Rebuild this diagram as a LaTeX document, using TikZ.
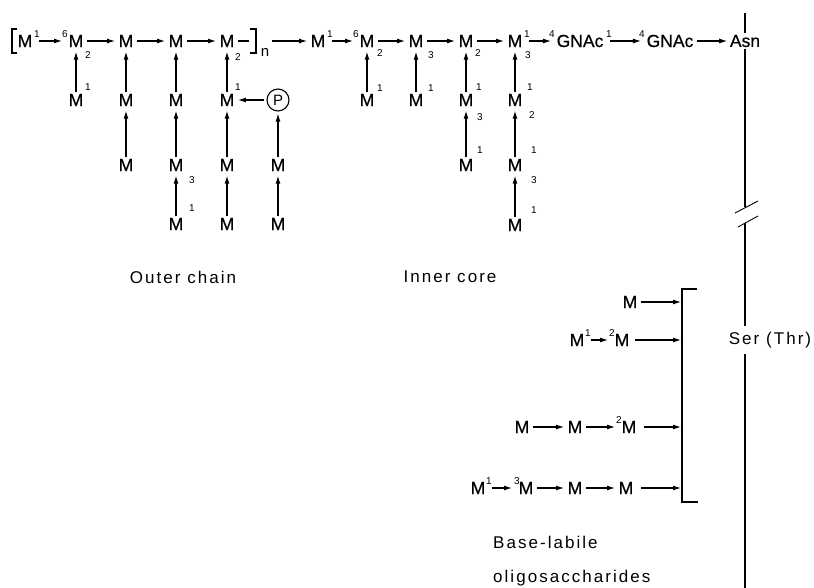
\documentclass[tikz,border=0pt]{standalone}
\usepackage{fontspec}
\setmainfont{Liberation Sans}
\newfontfamily\labfont[LetterSpace=12]{Liberation Sans}
\newfontfamily\mfont[FakeBold=0.6]{Liberation Sans}
\usetikzlibrary{arrows.meta}
\begin{document}
\begin{tikzpicture}[x=1pt,y=-1pt,
  m/.style={font=\mfont\fontsize{17.5}{17.5}\selectfont, inner sep=1.5pt},
  sp/.style={font=\fontsize{10}{10}\selectfont, inner sep=0pt},
  arr/.style={-{Latex[length=8pt,width=5pt]}, line width=1.1pt},
  ln/.style={line width=1.1pt},
  lab/.style={font=\labfont\fontsize{17}{17}\selectfont, inner sep=0pt},
  pc/.style={circle, draw, line width=1.1pt, minimum size=22pt, inner sep=0pt, font=\fontsize{15}{15}\selectfont}
]
\useasboundingbox (0,0) rectangle (814,588);

% ---------- top row: outer chain ----------
\draw[ln] (17,29) -- (12,29) -- (12,53) -- (17,53);
\node[m] (o1) at (25,41) {M};
\node[sp] at (37,34) {1};
\node[sp] at (65,34) {6};
\node[m] (o2) at (76,41) {M};
\node[m] (o3) at (126,41) {M};
\node[m] (o4) at (176,41) {M};
\node[m] (o5) at (227,41) {M};
\coordinate (o5e) at (249,41);
\draw[ln] (250,29) -- (256,29) -- (256,53) -- (250,53);
\node[font=\fontsize{15}{15}\selectfont, inner sep=0pt] (nn) at (265,52) {n};
\coordinate (rbr) at (272,41);

\draw[arr, shorten <=5pt, shorten >=5pt] (o1) -- (o2);
\draw[arr, shorten <=2pt, shorten >=2pt] (o2) -- (o3);
\draw[arr, shorten <=2pt, shorten >=2pt] (o3) -- (o4);
\draw[arr, shorten <=2pt, shorten >=2pt] (o4) -- (o5);
\draw[ln, shorten <=2pt] (o5) -- (o5e);

% ---------- top row: inner core ----------
\node[m] (i1) at (318,41) {M};
\node[sp] at (330,34) {1};
\node[sp] at (356,34) {6};
\node[m] (i2) at (367,41) {M};
\node[m] (i3) at (416,41) {M};
\node[m] (i4) at (466,41) {M};
\node[m] (i5) at (515,41) {M};
\node[sp] at (527,34) {1};
\node[sp] at (552,34) {4};
\node[m] (g1) at (580,41) {GNAc};
\node[sp] at (609,34) {1};
\node[sp] at (642,34) {4};
\node[m] (g2) at (670,41) {GNAc};
\node[m] (asn) at (745,41) {Asn};

\draw[arr, shorten >=2pt] (rbr) -- (i1);
\draw[arr, shorten <=5pt, shorten >=5pt] (i1) -- (i2);
\draw[arr, shorten <=2pt, shorten >=2pt] (i2) -- (i3);
\draw[arr, shorten <=2pt, shorten >=2pt] (i3) -- (i4);
\draw[arr, shorten <=2pt, shorten >=2pt] (i4) -- (i5);
\draw[arr, shorten <=5pt, shorten >=4pt] (i5) -- (g1);
\draw[arr, shorten <=5pt, shorten >=4pt] (g1) -- (g2);
\draw[arr, shorten <=2pt, shorten >=1pt] (g2) -- (asn);

% ---------- outer chain branches ----------
\node[m] (a1) at (76,100) {M};
\node[m] (a2) at (126,100) {M};
\node[m] (a3) at (176,100) {M};
\node[m] (a4) at (227,100) {M};
\node[pc] (p) at (278,100) {P};
\node[m] (b2) at (126,165) {M};
\node[m] (b3) at (176,165) {M};
\node[m] (b4) at (227,165) {M};
\node[m] (b5) at (278,165) {M};
\node[m] (c3) at (176,224) {M};
\node[m] (c4) at (227,224) {M};
\node[m] (c5) at (278,224) {M};

\draw[arr, shorten >=3pt] (a1) -- (o2);
\draw[arr, shorten >=3pt] (a2) -- (o3);
\draw[arr, shorten >=3pt] (a3) -- (o4);
\draw[arr, shorten >=3pt] (a4) -- (o5);
\draw[arr, shorten >=3pt] (b2) -- (a2);
\draw[arr, shorten >=3pt] (b3) -- (a3);
\draw[arr, shorten >=3pt] (b4) -- (a4);
\draw[arr, shorten >=2pt] (b5) -- (p);
\draw[arr, shorten >=3pt] (c3) -- (b3);
\draw[arr, shorten >=3pt] (c4) -- (b4);
\draw[arr, shorten >=3pt] (c5) -- (b5);
\draw[arr, shorten <=2pt, shorten >=2pt] (p) -- (a4);

\node[sp] at (88,55) {2};
\node[sp] at (88,87) {1};
\node[sp] at (238,57) {2};
\node[sp] at (238,87) {1};
\node[sp] at (192,180) {3};
\node[sp] at (192,208) {1};

% ---------- inner core branches ----------
\node[m] (d2) at (367,100) {M};
\node[m] (d3) at (416,100) {M};
\node[m] (d4) at (466,100) {M};
\node[m] (d5) at (515,100) {M};
\node[m] (e4) at (466,165) {M};
\node[m] (e5) at (515,165) {M};
\node[m] (f5) at (515,225) {M};

\draw[arr, shorten >=3pt] (d2) -- (i2);
\draw[arr, shorten >=3pt] (d3) -- (i3);
\draw[arr, shorten >=3pt] (d4) -- (i4);
\draw[arr, shorten >=3pt] (d5) -- (i5);
\draw[arr, shorten >=3pt] (e4) -- (d4);
\draw[arr, shorten >=3pt] (e5) -- (d5);
\draw[arr, shorten >=3pt] (f5) -- (e5);

\node[sp] at (380,53) {2};
\node[sp] at (380,88) {1};
\node[sp] at (431,55) {3};
\node[sp] at (431,88) {1};
\node[sp] at (478,53) {2};
\node[sp] at (479,87) {1};
\node[sp] at (480,117) {3};
\node[sp] at (480,150) {1};
\node[sp] at (528,55) {3};
\node[sp] at (530,87) {1};
\node[sp] at (532,115) {2};
\node[sp] at (534,150) {1};
\node[sp] at (534,180) {3};
\node[sp] at (534,210) {1};

\node[lab] (outer) at (183,277) {Outer chain};
\node[lab] (inner) at (450,277) {Inner core};

% ---------- main vertical line ----------
\coordinate (vtop) at (745,13);
\coordinate (brk1) at (745,207);
\coordinate (brk2) at (745,223);
\coordinate (s1) at (745,326);
\coordinate (s2) at (745,354);
\coordinate (vbot) at (745,588);
\draw[ln] (vtop) -- (asn);
\draw[ln] (asn) -- (brk1);
\draw[ln] (brk2) -- (s1);
\draw[ln] (s2) -- (vbot);
\draw[line width=0.9pt] (735,213) -- (758,201);
\draw[line width=0.9pt] (738,227) -- (758,216);
\node[lab] (ser) at (770,340) {Ser (Thr)};

% ---------- base-labile oligosaccharides ----------
\draw[ln] (697,289) -- (682,289) -- (682,502) -- (698,502);
\coordinate (ba) at (681,302);
\coordinate (bb) at (681,340);
\coordinate (bc) at (681,427);
\coordinate (bd) at (681,488);

\node[m] (ra) at (630,302) {M};
\draw[arr, shorten <=2pt] (ra) -- (ba);

\node[m] (rb1) at (577,340) {M};
\node[sp] at (588,333) {1};
\node[sp] at (612,333) {2};
\node[m] (rb2) at (622,340) {M};
\draw[arr, shorten <=5pt, shorten >=5pt] (rb1) -- (rb2);
\draw[arr, shorten <=4pt] (rb2) -- (bb);

\node[m] (rc1) at (522,427) {M};
\node[m] (rc2) at (575,427) {M};
\node[sp] at (619,420) {2};
\node[m] (rc3) at (629,427) {M};
\draw[arr, shorten <=2pt, shorten >=2pt] (rc1) -- (rc2);
\draw[arr, shorten <=2pt, shorten >=5pt] (rc2) -- (rc3);
\draw[arr, shorten <=6pt] (rc3) -- (bc);

\node[m] (rd1) at (478,488) {M};
\node[sp] at (489,481) {1};
\node[sp] at (517,481) {3};
\node[m] (rd2) at (526,488) {M};
\node[m] (rd3) at (575,488) {M};
\node[m] (rd4) at (626,488) {M};
\draw[arr, shorten <=5pt, shorten >=5pt] (rd1) -- (rd2);
\draw[arr, shorten <=2pt, shorten >=2pt] (rd2) -- (rd3);
\draw[arr, shorten <=2pt, shorten >=2pt] (rd3) -- (rd4);
\draw[arr, shorten <=6pt] (rd4) -- (bd);

\node[lab, anchor=west] (bl1) at (493,542) {Base-labile};
\node[lab, anchor=west] (bl2) at (493,578) {oligosaccharides};
\end{tikzpicture}
\end{document}
